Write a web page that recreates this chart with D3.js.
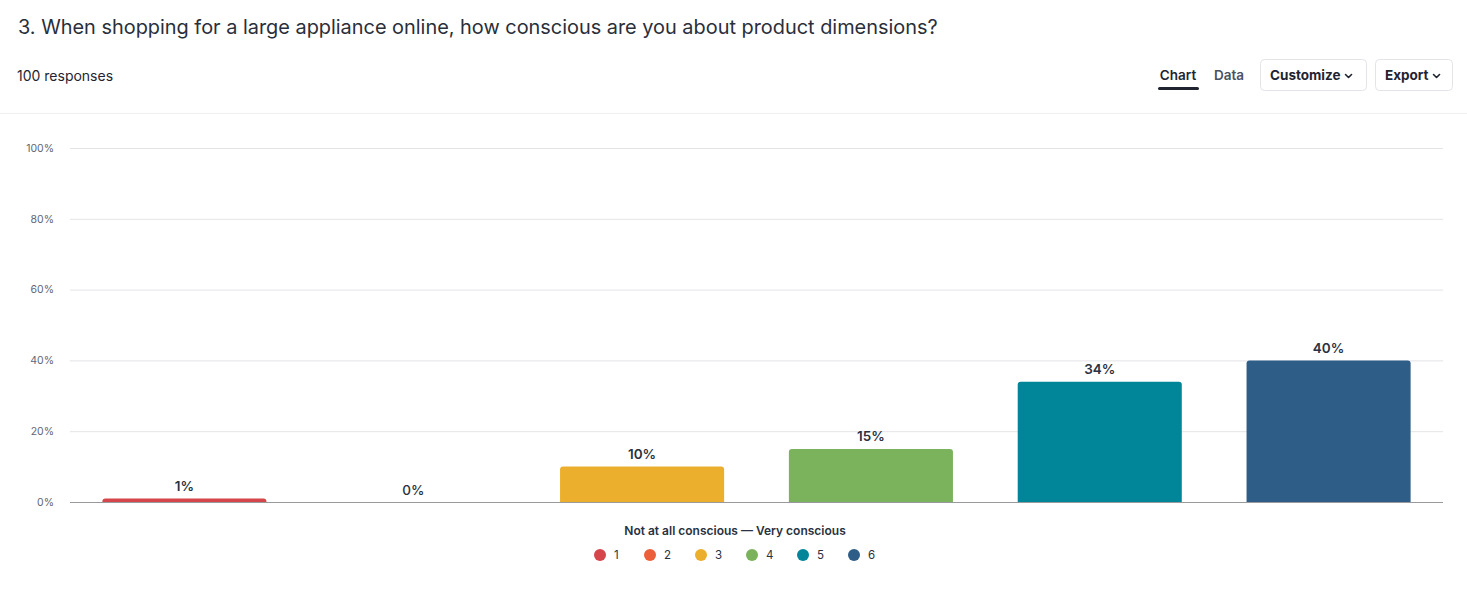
<!DOCTYPE html>
<html><head><meta charset="utf-8">
<script src="https://cdn.jsdelivr.net/npm/d3@7"></script>
<style>
body{margin:0;background:#fff;font-family:Inter,"Noto Sans",sans-serif;}
svg{display:block;}
</style></head><body>
<svg id="c" width="1467" height="591"></svg>
<script>
const title = "3. When shopping for a large appliance online, how conscious are you about product dimensions?";
const subtitle = "100 responses";
const categories = ["1","2","3","4","5","6"];
const values = [1,0,10,15,34,40];
const colors = ["#d5464b","#ec5f3b","#ebaf2d","#7bb35d","#008698","#2e5e87"];
const yTicks = [0,20,40,60,80,100];
const legendTitle = "Not at all conscious — Very conscious";

const svg = d3.select("#c");
const W = 1467, H = 591;
const x0 = 70, x1 = 1443, yTop = 148, yBot = 502;

svg.append("text").attr("x",18).attr("y",34).attr("font-size",19.9).attr("fill","#2a2f3a").text(title);
svg.append("text").attr("x",17).attr("y",81).attr("font-size",14).attr("fill","#1f2430").text(subtitle);

// tabs
svg.append("text").attr("x",1178).attr("y",80).attr("font-size",13.5).attr("font-weight",600).attr("text-anchor","middle").attr("fill","#1f2430").text("Chart");
svg.append("rect").attr("x",1158).attr("y",87).attr("width",41).attr("height",3).attr("rx",1.5).attr("fill","#1f2430");
svg.append("text").attr("x",1229).attr("y",80).attr("font-size",13.5).attr("font-weight",600).attr("text-anchor","middle").attr("fill","#4a5162").text("Data");
// buttons
function button(x,w,label){
  svg.append("rect").attr("x",x+0.5).attr("y",59.5).attr("width",w).attr("height",31).attr("rx",4).attr("fill","#fff").attr("stroke","#e3e4ea");
  const t = svg.append("text").attr("x",x+10).attr("y",80).attr("font-size",13.5).attr("font-weight",700).attr("fill","#1f2430").text(label);
  const tw = t.node().getComputedTextLength();
  const cx = x+10+tw+8, cy=76;
  svg.append("path").attr("d",`M${cx-3},${cy-1.5} L${cx},${cy+1.5} L${cx+3},${cy-1.5}`).attr("fill","none").attr("stroke","#1f2430").attr("stroke-width",1.6).attr("stroke-linecap","round").attr("stroke-linejoin","round");
}
button(1260,106,"Customize");
button(1375,77,"Export");

svg.append("line").attr("x1",0).attr("x2",W).attr("y1",113.5).attr("y2",113.5).attr("stroke","#f0eff6");

const x = d3.scaleBand().domain(categories).range([x0,x1]).paddingInner(0.283).paddingOuter(0.1415);
const y = d3.scaleLinear().domain([0,100]).range([yBot,yTop]);

const yAxis = d3.axisLeft(y).tickValues(yTicks).tickFormat(d=>d+"%").tickSize(-(x1-x0)).tickPadding(16);
const ga = svg.append("g").attr("transform",`translate(${x0},0)`).call(yAxis);
ga.select(".domain").remove();
ga.selectAll(".tick line").attr("stroke","#e4e4e8");
ga.selectAll(".tick text").attr("font-size",10.5).attr("fill","#5f6675").attr("font-family","Inter,sans-serif");

// bars with rounded top
const r = 3;
svg.append("g").selectAll("path").data(values).join("path")
  .attr("fill",(d,i)=>colors[i])
  .attr("d",(d,i)=>{
    const bx = x(categories[i]), bw = x.bandwidth(), by = y(d), bh = yBot - by;
    if (bh<=0) return "";
    const rr = Math.min(r,bh);
    return `M${bx},${yBot} V${by+rr} Q${bx},${by} ${bx+rr},${by} H${bx+bw-rr} Q${bx+bw},${by} ${bx+bw},${by+rr} V${yBot} Z`;
  });

svg.append("line").attr("x1",x0).attr("x2",x1).attr("y1",yBot+0.5).attr("y2",yBot+0.5).attr("stroke","#9a9a9e");

svg.append("g").selectAll("text").data(values).join("text")
  .attr("x",(d,i)=>x(categories[i])+x.bandwidth()/2)
  .attr("y",d=>y(d)-7.5)
  .attr("text-anchor","middle").attr("font-size",13.5).attr("font-weight",d=>d===0?500:600).attr("fill","#2a3140")
  .text(d=>d+"%");

// legend
svg.append("text").attr("x",735).attr("y",535).attr("text-anchor","middle").attr("font-size",12).attr("font-weight",600).attr("fill","#2a3140").text(legendTitle);
const lx = [600,650,701,752,803,854];
const lg = svg.append("g").selectAll("g").data(categories).join("g").attr("transform",(d,i)=>`translate(${lx[i]},555)`);
lg.append("circle").attr("r",6).attr("fill",(d,i)=>colors[i]);
lg.append("text").attr("x",14).attr("y",4).attr("font-size",11.5).attr("fill","#2a3140").text(d=>d);
</script>
</body></html>
